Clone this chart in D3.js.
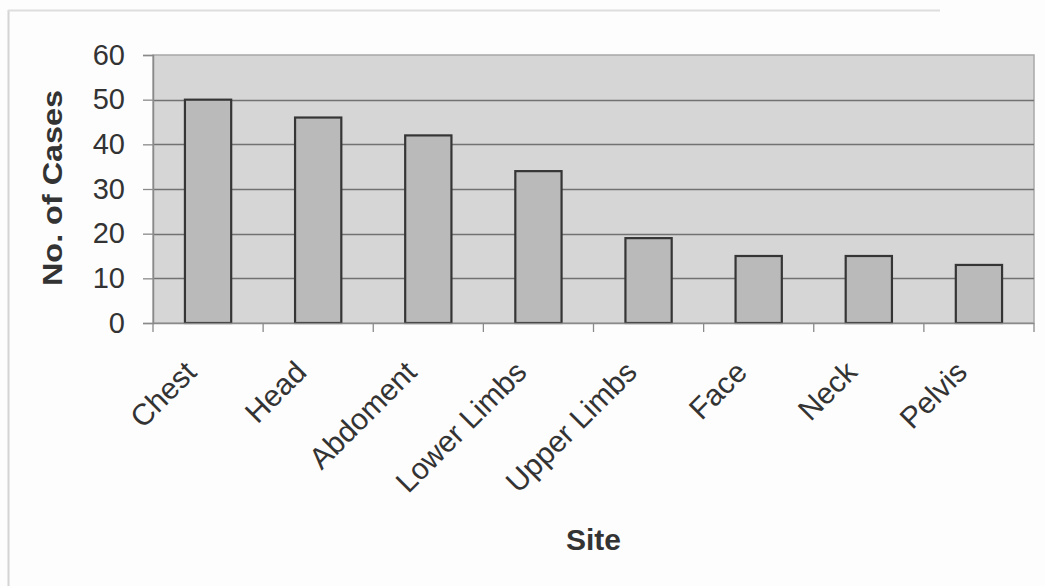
<!DOCTYPE html>
<html>
<head>
<meta charset="utf-8">
<script src="https://cdn.jsdelivr.net/npm/d3@7"></script>
<style>
  html, body { margin: 0; padding: 0; background: #ffffff; }
  svg { display: block; }
  text { font-family: "Liberation Sans", Arial, sans-serif; fill: #333333; }
</style>
</head>
<body>
<svg id="chart" width="1045" height="586"></svg>
<script>
// Injury sites and number of cases
const sites = ["Chest", "Head", "Abdoment", "Lower Limbs", "Upper Limbs", "Face", "Neck", "Pelvis"];
const cases = [50, 46, 42, 34, 19, 15, 15, 13];
const yTicks = [0, 10, 20, 30, 40, 50, 60];

const yLabel = "No. of Cases";
const xLabel = "Site";

const svg = d3.select("#chart");
const W = 1045, H = 586;
const plot = { left: 153, right: 1034, top: 55, bottom: 323 };

// outer frame of the chart page
svg.append("rect").attr("x", 0).attr("y", 0).attr("width", W).attr("height", H).attr("fill", "#fdfdfd");
svg.append("line").attr("x1", 8.5).attr("x2", 8.5).attr("y1", 10).attr("y2", H)
  .attr("stroke", "#d4d4d4").attr("stroke-width", 2);
svg.append("line").attr("x1", 8).attr("x2", 940).attr("y1", 10.5).attr("y2", 10.5)
  .attr("stroke", "#dedede").attr("stroke-width", 2);

const x = d3.scaleBand()
  .domain(sites)
  .range([plot.left, plot.right])
  .paddingInner(0.58)
  .paddingOuter(0.29);

const y = d3.scaleLinear().domain([0, 60]).range([plot.bottom, plot.top]);

// plot area background
svg.append("rect")
  .attr("x", plot.left).attr("y", plot.top)
  .attr("width", plot.right - plot.left).attr("height", plot.bottom - plot.top)
  .attr("fill", "#d6d6d6")
  .attr("stroke", "#a8a8a8").attr("stroke-width", 1.5);

// horizontal gridlines
svg.append("g").selectAll("line")
  .data(yTicks.filter(d => d > 0 && d < 60))
  .join("line")
  .attr("x1", plot.left).attr("x2", plot.right)
  .attr("y1", d => Math.round(y(d)) + 0.5).attr("y2", d => Math.round(y(d)) + 0.5)
  .attr("stroke", "#727272").attr("stroke-width", 1.4);

// bars
svg.append("g").selectAll("rect")
  .data(sites)
  .join("rect")
  .attr("x", d => x(d))
  .attr("y", (d, i) => y(cases[i]))
  .attr("width", x.bandwidth())
  .attr("height", (d, i) => y(0) - y(cases[i]))
  .attr("fill", "#bababa")
  .attr("stroke", "#353535")
  .attr("stroke-width", 2.2);

// y axis
const yAxis = svg.append("g")
  .attr("transform", `translate(${plot.left},0)`)
  .call(d3.axisLeft(y).tickValues(yTicks).tickSize(10).tickPadding(18).tickFormat(d3.format("d")));
yAxis.select(".domain").attr("stroke", "#8a8a8a").attr("stroke-width", 1.5);
yAxis.selectAll(".tick line").attr("stroke", "#8a8a8a").attr("stroke-width", 1.3);
yAxis.selectAll(".tick text")
  .attr("font-size", 29).attr("fill", "#333")
  .style("font-family", "'Liberation Sans', Arial, sans-serif");

// x axis baseline and category separators
const step = x.step();
const bounds = d3.range(sites.length + 1).map(i => plot.left + i * step);
svg.append("line")
  .attr("x1", plot.left).attr("x2", plot.right)
  .attr("y1", plot.bottom + 0.5).attr("y2", plot.bottom + 0.5)
  .attr("stroke", "#8a8a8a").attr("stroke-width", 1.5);
svg.append("g").selectAll("line")
  .data(bounds)
  .join("line")
  .attr("x1", d => d).attr("x2", d => d)
  .attr("y1", plot.bottom).attr("y2", plot.bottom + 9)
  .attr("stroke", "#8a8a8a").attr("stroke-width", 1.3);

// rotated category labels
svg.append("g").selectAll("text")
  .data(sites)
  .join("text")
  .attr("transform", d => `translate(${x(d) + x.bandwidth() / 2 - 10},${plot.bottom + 51}) rotate(-45)`)
  .attr("text-anchor", "end")
  .attr("font-size", 30)
  .text(d => d);

// axis titles
svg.append("text")
  .attr("transform", `translate(62,${(plot.top + plot.bottom) / 2 - 1}) rotate(-90)`)
  .attr("text-anchor", "middle")
  .attr("font-size", 28)
  .attr("font-weight", "bold")
  .attr("textLength", 196)
  .attr("lengthAdjust", "spacingAndGlyphs")
  .text(yLabel);

svg.append("text")
  .attr("x", (plot.left + plot.right) / 2)
  .attr("y", 550)
  .attr("text-anchor", "middle")
  .attr("font-size", 30)
  .attr("font-weight", "bold")
  .text(xLabel);
</script>
</body>
</html>
